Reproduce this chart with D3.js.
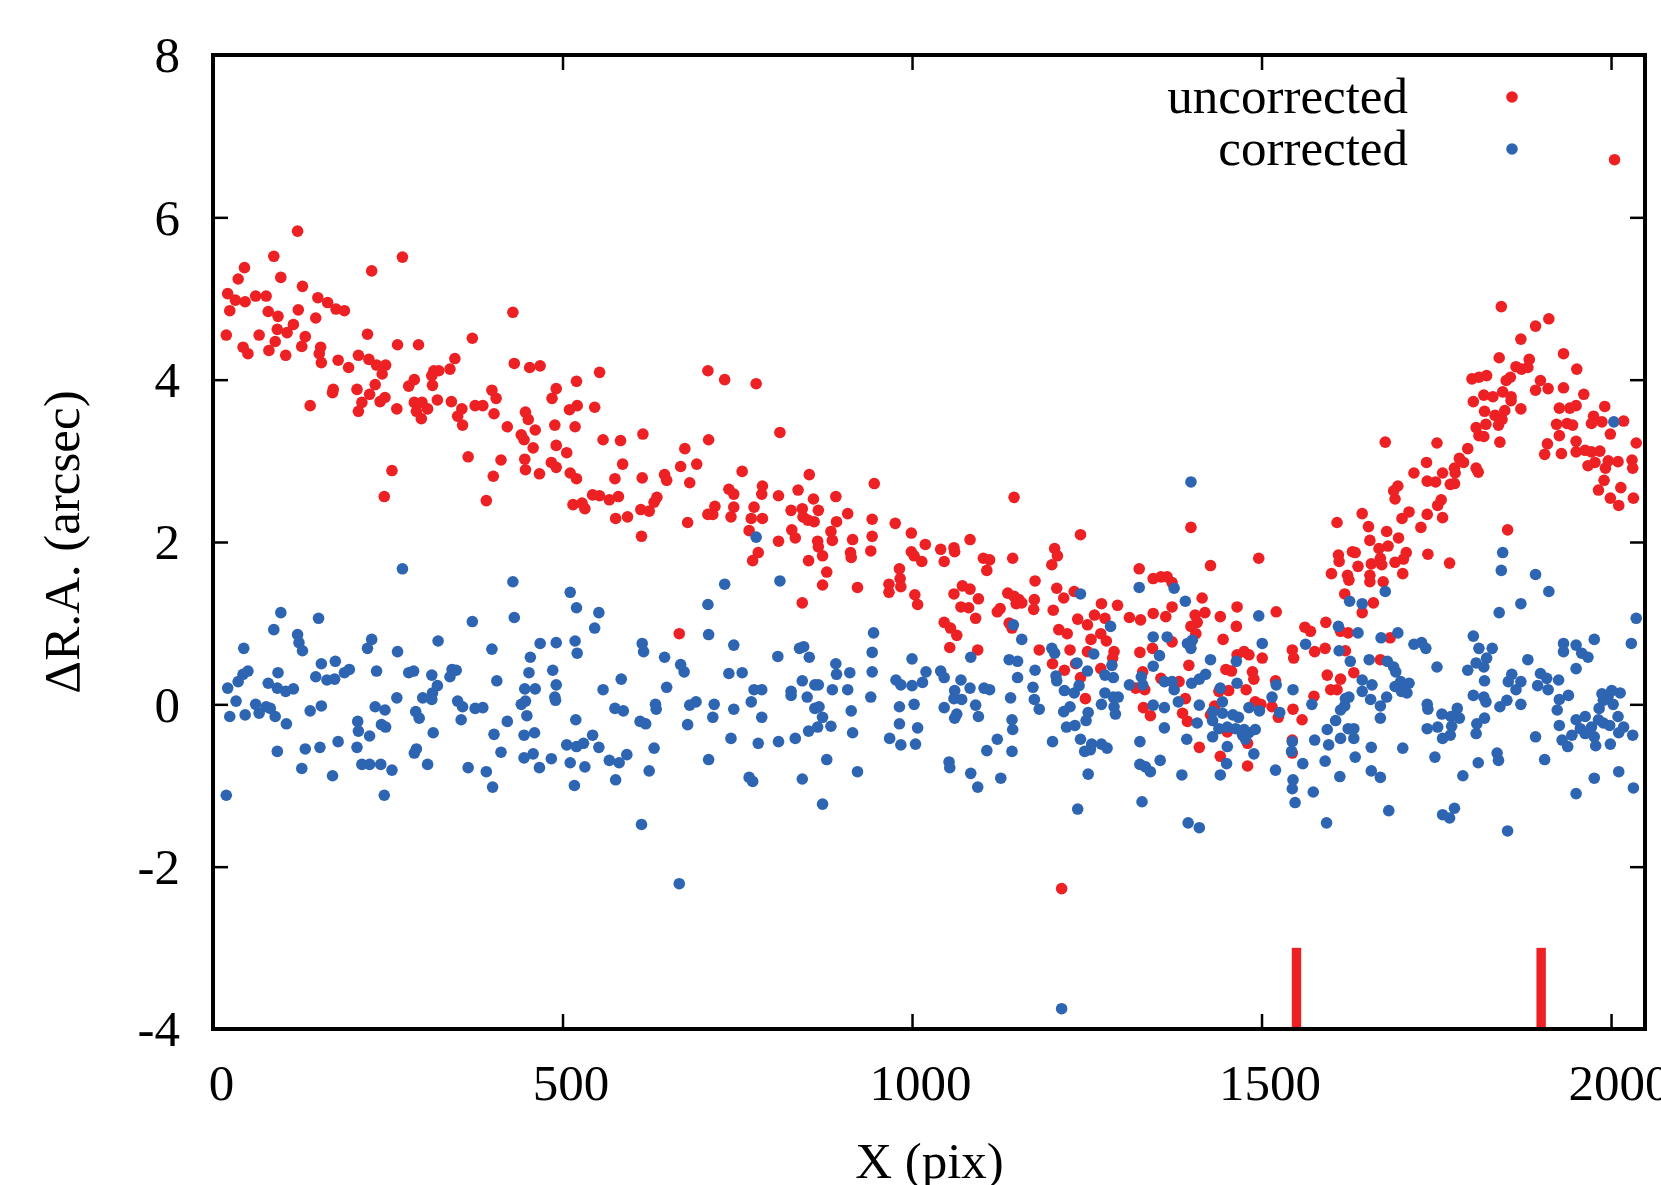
<!DOCTYPE html>
<meta charset="utf-8">
<script src="https://d3js.org/d3.v7.min.js"></script>
<style>
  body { margin: 0; background: #fff; }
  svg text { font-family: "Liberation Serif", "Times New Roman", serif; fill: #000; }
  .axis .domain { display: none; }
  .axis .tick line { stroke: #000; stroke-width: 2.5; }
  .axis .tick text { font-size: 51px; }
</style>
<div id="chart"></div>
<script>
// ticks
const xTicks = [0, 500, 1000, 1500, 2000];
const yTicks = [-4, -2, 0, 2, 4, 6, 8];

// edge markers (red bars along the bottom)
const edges = [1550, 1900];

// [X pix, dRA arcsec] before correction
const uncorrected = [
  [121,5.83],[87,5.52],[271,5.51],[45,5.38],[227,5.34],[36,5.24],[97,5.26],[128,5.15],[21,5.06],[32,4.98],[46,4.96],[61,5.03],[76,5.03],[24,4.85],[150,5.01],[164,4.95],[176,4.87],[188,4.85],[79,4.84],[93,4.78],[122,4.86],[429,4.83],[147,4.76],[115,4.68],[92,4.62],[106,4.58],[19,4.55],[66,4.55],[132,4.53],[221,4.56],[89,4.47],[43,4.40],[50,4.32],[80,4.36],[104,4.30],[127,4.41],[154,4.40],[152,4.32],[155,4.21],[179,4.24],[194,4.15],[208,4.30],[223,4.25],[234,4.18],[247,4.18],[242,4.07],[264,4.43],[294,4.43],[371,4.51],[346,4.26],[339,4.13],[316,4.11],[323,4.11],[313,4.05],[314,3.93],[288,4.00],[280,3.92],[431,4.20],[453,4.15],[468,4.17],[553,4.09],[520,3.98],[232,3.94],[224,3.82],[206,3.88],[172,3.88],[171,3.84],[139,3.68],[213,3.72],[208,3.61],[239,3.73],[246,3.78],[263,3.64],[288,3.72],[299,3.72],[291,3.61],[307,3.64],[298,3.52],[321,3.75],[341,3.73],[356,3.64],[350,3.55],[357,3.44],[375,3.68],[386,3.68],[399,3.87],[405,3.77],[402,3.58],[421,3.42],[447,3.60],[451,3.51],[461,3.38],[441,3.32],[445,3.26],[458,3.16],[491,3.89],[485,3.77],[510,3.63],[521,3.68],[546,3.66],[489,3.44],[518,3.42],[491,3.19],[506,3.10],[558,3.26],[583,3.25],[615,3.33],[365,3.05],[412,3.01],[401,2.81],[391,2.51],[446,3.02],[447,2.89],[467,2.84],[484,2.98],[491,2.92],[511,2.85],[520,2.78],[256,2.88],[245,2.56],[586,2.96],[575,2.78],[614,2.79],[646,2.83],[649,2.76],[669,2.93],[543,2.58],[553,2.57],[567,2.52],[580,2.56],[515,2.46],[528,2.48],[532,2.41],[576,2.29],[593,2.31],[612,2.40],[624,2.38],[631,2.49],[635,2.55],[613,2.07],
  [708,4.11],[732,4.00],[777,3.95],[709,3.26],[811,3.35],[675,3.15],[692,2.96],[682,2.73],[679,2.24],[757,2.87],[853,2.83],[946,2.72],[738,2.65],[745,2.59],[786,2.69],[785,2.59],[809,2.57],[837,2.64],[859,2.53],[891,2.56],[718,2.44],[708,2.34],[715,2.34],[745,2.43],[741,2.31],[774,2.43],[770,2.29],[786,2.29],[767,2.14],[827,2.39],[843,2.41],[844,2.31],[851,2.27],[860,2.25],[866,2.39],[892,2.25],[908,2.35],[828,2.15],[833,2.05],[809,2.01],[865,2.01],[866,1.94],[872,1.83],[884,2.13],[886,2.02],[915,2.03],[943,2.28],[943,2.07],[941,1.89],[912,1.87],[913,1.81],[780,1.87],[772,1.77],[852,1.77],[878,1.63],[872,1.47],[922,1.44],[976,2.23],[999,2.11],[1019,1.97],[1041,1.91],[1060,1.93],[1061,1.88],[1083,2.03],[1046,1.76],[999,1.88],[1003,1.83],[1014,1.76],[982,1.67],[983,1.55],[967,1.48],[984,1.45],[967,1.38],[1004,1.35],[1146,2.55],[1241,2.09],[1144,1.80],[1102,1.80],[1111,1.78],[1107,1.65],[1204,1.92],[1208,1.83],[1200,1.72],[1176,1.52],[1207,1.43],[1217,1.31],[1232,1.39],[1325,1.67],[1345,1.55],[1356,1.57],[1365,1.57],[1072,1.46],[1083,1.42],[1060,1.36],[1095,1.30],[1137,1.37],[1146,1.33],[1153,1.29],[1175,1.29],
  [2005,6.71],[1843,4.90],[1911,4.75],[1892,4.66],[1871,4.50],[1932,4.32],[1951,4.13],[1840,4.27],[1883,4.25],[1864,4.16],[1872,4.13],[1881,4.15],[1856,4.03],[1850,3.99],[1801,4.01],[1811,4.03],[1822,4.05],[1899,3.99],[1892,3.87],[1910,3.89],[1932,3.90],[1845,3.85],[1818,3.81],[1831,3.79],[1857,3.79],[1803,3.73],[1857,3.74],[1819,3.61],[1848,3.62],[1871,3.64],[1834,3.56],[1844,3.51],[1839,3.44],[1807,3.41],[1821,3.45],[1961,3.82],[1926,3.65],[1941,3.65],[1950,3.68],[1937,3.46],[1922,3.45],[1945,3.44],[1975,3.55],[1972,3.46],[1991,3.67],[1987,3.48],[2018,3.49],[1999,3.33],[1926,3.31],[1909,3.21],[1905,3.08],[1929,3.09],[1950,3.24],[1950,3.11],[1963,3.13],[1972,3.11],[1984,3.12],[1996,3.00],[2010,2.99],[2030,3.01],[2036,3.22],[2031,2.91],[1967,2.94],[1977,2.98],[1992,2.91],[1990,2.76],[1982,2.64],[2014,2.67],[1999,2.54],[2011,2.45],[2032,2.54],[1841,3.23],[1811,3.31],[1818,3.30],[1795,3.15],[1807,2.91],[1810,2.86],[1783,3.03],[1789,2.98],[1776,2.91],[1759,2.85],[1777,2.85],[1770,2.71],[1776,2.72],[1751,3.22],[1736,2.98],[1718,2.85],[1737,2.75],[1749,2.74],[1757,2.52],[1752,2.45],[1759,2.30],[1737,2.34],[1728,2.18],[1711,2.37],[1701,2.29],[1677,3.23],[1695,2.69],[1689,2.63],[1691,2.53],[1644,2.35],[1653,2.19],[1655,2.02],[1679,2.13],[1696,2.05],[1668,1.92],[1681,1.95],[1670,1.80],[1672,1.72],[1657,1.73],[1638,1.70],[1655,1.59],[1655,1.51],[1674,1.51],[1691,1.75],[1703,1.79],[1707,1.87],[1702,1.61],[1738,1.85],[1769,1.74],[1608,2.24],[1610,1.84],[1611,1.76],[1630,1.88],[1634,1.87],[1600,1.61],[1623,1.59],[1625,1.53],[1619,1.36],[1852,2.15],[1399,2.18],[1427,1.71],[1496,1.80],[1415,1.31],[1372,1.50],
  [667,0.87],
  [843,1.25],[1008,1.23],[1046,1.01],[1055,0.94],[1064,0.85],[1054,0.70],[1070,1.20],[1081,1.19],[1091,1.06],[1094,0.67],[1122,1.14],[1126,1.18],[1139,1.00],[1143,0.94],[1149,1.24],[1157,1.25],[1174,1.17],[1202,1.16],[1182,0.67],[1210,0.92],[1222,0.87],[1201,0.50],[1218,0.42],[1226,0.67],[1237,1.05],[1251,0.98],[1261,1.10],[1271,1.24],[1294,1.22],[1276,1.06],[1270,0.87],[1278,0.78],[1256,0.80],[1251,0.65],[1289,0.65],[1287,0.57],[1270,0.44],[1234,0.50],[1241,0.33],[1248,0.07],[1311,1.07],[1327,1.04],[1345,1.12],[1363,1.08],[1326,0.64],[1344,0.69],[1330,0.40],[1356,0.32],[1320,0.20],[1333,0.18],[1331,-0.04],[1341,-0.14],[1214,-2.27],
  [1372,1.20],[1405,1.10],[1419,1.13],[1408,1.01],[1399,0.96],[1441,1.08],[1465,1.20],[1464,0.96],[1521,1.14],[1406,0.87],[1445,0.80],[1372,0.77],[1396,0.48],[1465,0.61],[1475,0.65],[1482,0.61],[1501,0.57],[1449,0.43],[1457,0.41],[1487,0.40],[1489,0.31],[1382,0.28],[1439,0.16],[1453,0.17],[1478,0.18],[1391,0.07],[1433,-0.02],[1491,0.03],[1499,0.00],[1515,-0.03],[1387,-0.11],[1394,-0.21],[1427,-0.13],[1451,-0.34],[1480,-0.48],[1411,-0.53],[1441,-0.64],[1480,-0.76],[1524,-0.16],[1520,0.29],[1545,-0.06],[1558,-0.19],[1544,0.67],[1546,0.57],[1562,0.95],[1570,0.90],[1576,0.65],[1592,1.01],[1591,0.69],[1594,0.36],[1599,0.18],[1608,0.18],[1613,0.90],[1624,0.88],[1620,0.66],[1613,0.31],[1632,0.39],[1644,1.13],[1660,1.25],[1684,0.82],[1670,0.55],[1575,0.10],[1544,-0.44],[1544,-0.60]
];

// [X pix, dRA arcsec] after correction
const corrected = [
  [271,1.67],[429,1.51],[511,1.38],
  [777,2.06],[732,1.48],[811,1.52],[1241,1.36],[1325,1.44],
  [1399,2.74],[2004,3.48],[1845,1.87],[1843,1.65],[1892,1.60],[1911,1.39],[1677,1.39],[1626,1.27],[1375,1.43],[1391,1.27],
  [97,1.13],[151,1.06],[87,0.92],[44,0.69],[121,0.86],[123,0.76],[128,0.66],[371,1.02],[431,1.07],[520,1.19],[552,1.13],[546,0.94],[518,0.78],[521,0.63],[491,0.76],[468,0.75],[454,0.58],[452,0.39],[399,0.68],[322,0.78],[264,0.65],[227,0.80],[221,0.69],[614,0.75],[616,0.65],[646,0.58],[669,0.49],[674,0.40],[584,0.31],[558,0.18],[649,0.21],[21,0.20],[36,0.28],[43,0.37],[50,0.41],[33,0.04],[24,-0.15],[46,-0.13],[61,0.00],[66,-0.11],[79,0.26],[93,0.39],[92,0.20],[104,0.16],[115,0.19],[76,-0.03],[82,-0.05],[89,-0.15],[105,-0.24],[92,-0.58],[19,-1.12],[147,0.34],[155,0.50],[175,0.53],[163,0.30],[174,0.31],[188,0.39],[195,0.43],[139,-0.08],[155,-0.02],[132,-0.55],[153,-0.53],[179,-0.46],[127,-0.79],[171,-0.88],[234,0.41],[232,-0.03],[246,-0.07],[207,-0.21],[208,-0.33],[224,-0.39],[241,-0.25],[247,-0.28],[206,-0.53],[213,-0.74],[224,-0.74],[240,-0.74],[256,-0.81],[245,-1.12],[263,0.08],[280,0.39],[287,0.41],[313,0.36],[321,0.23],[314,0.14],[300,0.08],[313,0.06],[290,-0.09],[295,-0.17],[315,-0.35],[291,-0.55],[288,-0.60],[307,-0.74],[342,0.43],[348,0.42],[339,0.34],[350,0.04],[357,-0.03],[355,-0.19],[375,-0.05],[386,-0.04],[406,0.29],[421,-0.21],[402,-0.37],[412,-0.59],[365,-0.78],[391,-0.83],[400,-1.02],[441,0.00],[447,0.04],[446,0.19],[461,0.19],[449,-0.14],[445,-0.38],[460,-0.35],[458,-0.61],[445,-0.66],[467,-0.78],[486,0.42],[491,0.24],[489,0.09],[490,0.05],[484,-0.67],[519,-0.19],[506,-0.50],[520,-0.52],[530,-0.48],[511,-0.72],[532,-0.77],[517,-1.00],[543,-0.38],[552,-0.53],[567,-0.69],[581,-0.72],[592,-0.62],[576,-0.93],[575,-0.05],[587,-0.08],[611,-0.21],[619,-0.24],[633,0.00],[634,-0.06],[631,-0.54],[624,-0.82],[613,-1.48],[667,-2.21],
  [708,1.23],[709,0.86],[745,0.73],[808,0.59],[839,0.69],[845,0.71],[853,0.58],[945,0.88],[943,0.64],[943,0.40],[941,0.09],[891,0.50],[892,0.37],[911,0.39],[908,0.18],[886,0.18],[843,0.29],[861,0.24],[866,0.24],[827,0.16],[827,0.11],[850,0.09],[738,0.38],[757,0.39],[774,0.18],[785,0.18],[770,0.03],[745,-0.06],[717,0.00],[682,-0.01],[691,0.03],[715,-0.16],[679,-0.25],[785,-0.16],[741,-0.42],[780,-0.48],[809,-0.46],[833,-0.42],[852,-0.33],[865,-0.28],[861,-0.05],[867,-0.03],[872,-0.16],[884,-0.27],[913,-0.08],[915,-0.35],[709,-0.68],[767,-0.90],[772,-0.95],[843,-0.92],[878,-0.68],[922,-0.83],[872,-1.23],[977,0.30],[984,0.24],[1000,0.23],[1000,0.56],[1015,0.27],[1020,0.40],[1041,0.41],[1046,0.33],[1070,0.30],[1083,0.20],[1061,0.17],[1060,0.07],[1071,0.06],[982,-0.03],[1003,0.00],[982,-0.24],[1008,-0.29],[968,-0.42],[984,-0.50],[1005,-0.49],[1046,-0.04],[1064,-0.12],[1061,-0.17],[1091,-0.01],[1095,-0.15],[1084,0.58],[1103,0.20],[1111,0.18],[1053,-0.71],[1054,-0.78],[1084,-0.85],[1094,-1.02],[1122,-0.43],[1107,-0.57],[1127,-0.91],[1145,0.98],[1157,0.80],[1139,0.55],[1151,0.53],[1151,0.33],[1141,0.08],[1143,-0.19],[1144,-0.31],[1143,-0.58],[1176,0.42],[1173,0.21],[1175,0.06],[1182,-0.06],[1200,0.69],[1204,0.63],[1206,0.35],[1207,0.29],[1218,0.17],[1236,0.51],[1251,0.41],[1260,0.62],[1239,0.23],[1232,0.14],[1226,-0.03],[1217,-0.09],[1252,-0.10],[1249,-0.20],[1221,-0.28],[1233,-0.26],[1201,-0.46],[1241,-0.43],[1257,-0.49],[1247,-0.58],[1255,-0.56],[1271,-0.49],[1279,-0.54],[1252,-0.86],[1237,-1.29],[1214,-3.75],[1284,0.96],[1286,0.48],[1276,0.36],[1288,0.33],[1276,0.14],[1271,0.00],[1288,0.09],[1295,0.09],[1289,-0.03],[1291,-0.12],[1311,0.24],[1328,0.34],[1330,0.24],[1345,0.83],[1354,0.60],[1345,0.47],[1361,0.28],[1345,-0.01],[1361,-0.04],[1361,-0.29],[1326,-0.46],[1355,-0.69],[1326,-0.74],[1334,-0.77],[1341,-0.83],[1329,-1.20],
  [1644,1.24],[1871,1.24],[1840,1.13],[2036,1.06],[1496,1.09],[1365,0.83],[1394,0.75],[1401,0.79],[1399,0.69],[1501,0.75],[1563,0.74],[1610,0.96],[1638,0.88],[1671,0.82],[1695,0.88],[1611,0.66],[1627,0.53],[1654,0.55],[1680,0.53],[1689,0.46],[1692,0.40],[1718,0.74],[1729,0.76],[1735,0.69],[1751,0.46],[1427,0.55],[1464,0.53],[1420,0.37],[1411,0.31],[1400,0.26],[1375,0.18],[1372,0.28],[1441,0.20],[1465,0.26],[1444,0.03],[1381,0.03],[1411,-0.01],[1430,-0.09],[1430,-0.20],[1444,-0.11],[1459,-0.13],[1467,-0.16],[1482,-0.04],[1497,-0.08],[1515,0.09],[1521,0.24],[1526,-0.10],[1451,-0.28],[1439,-0.30],[1463,-0.30],[1475,-0.31],[1482,-0.35],[1491,-0.31],[1473,-0.38],[1477,-0.43],[1430,-0.40],[1451,-0.52],[1408,-0.23],[1393,-0.43],[1386,-0.87],[1441,-0.87],[1450,-0.73],[1489,-0.61],[1520,-0.81],[1395,-1.46],[1411,-1.52],[1545,0.18],[1572,0.00],[1544,-0.46],[1543,-0.58],[1545,-0.93],[1544,-1.04],[1548,-1.21],[1559,-0.73],[1576,-0.44],[1574,-1.08],[1594,-0.31],[1596,-0.50],[1591,-0.70],[1606,-0.20],[1613,-0.07],[1619,-0.02],[1620,0.07],[1625,0.09],[1624,-0.30],[1632,-0.30],[1613,-0.42],[1632,-0.42],[1612,-0.89],[1634,-0.65],[1593,-1.46],[1644,0.30],[1644,0.16],[1656,0.06],[1658,0.24],[1670,-0.02],[1679,0.09],[1670,-0.17],[1657,-0.53],[1657,-0.82],[1670,-0.90],[1682,-1.31],[1702,-0.54],[1691,0.22],[1699,0.28],[1703,0.22],[1711,0.26],[1700,0.16],[1708,0.14],[1737,0.00],[1738,-0.06],[1737,-0.30],[1752,-0.28],[1758,-0.12],[1771,-0.15],[1780,-0.05],[1783,-0.17],[1772,-0.27],[1770,-0.38],[1759,-0.42],[1748,-0.65],[1788,-0.88],[1759,-1.36],[1769,-1.40],[1776,-1.28],[1795,0.42],[1803,0.84],[1811,0.69],[1822,0.57],[1807,0.51],[1818,0.46],[1830,0.69],[1819,0.29],[1803,0.11],[1818,0.09],[1821,0.03],[1819,-0.17],[1808,-0.24],[1807,-0.36],[1810,-0.72],[1837,-0.60],[1839,-0.69],[1852,-1.56],[1841,-0.03],[1851,0.05],[1853,0.28],[1858,0.37],[1864,0.18],[1871,0.28],[1871,0.00],[1881,0.55],[1892,-0.40],[1905,-0.68],[1895,0.23],[1899,0.38],[1908,0.32],[1910,0.18],[1925,0.30],[1932,0.75],[1932,0.65],[1950,0.73],[1958,0.63],[1967,0.58],[1976,0.80],[1950,0.44],[1939,0.11],[1926,0.06],[1923,-0.07],[1926,-0.26],[1930,-0.44],[1938,-0.52],[1944,-0.38],[1950,-0.19],[1950,-1.10],[1963,-0.15],[1956,-0.30],[1963,-0.36],[1972,-0.28],[1976,-0.40],[1978,-0.51],[1982,-0.19],[1989,-0.23],[1998,-0.26],[1983,-0.05],[1989,0.05],[1996,0.11],[2003,0.00],[2001,0.17],[2013,0.14],[1987,0.13],[2010,-0.15],[2011,-0.35],[2018,-0.28],[2031,-0.38],[1999,-0.49],[1976,-0.91],[2011,-0.83],[2032,-1.03],[2029,0.75]
];

const red = "#ed2024", blue = "#2e65b2";
const W = 1661, H = 1185;
const plot = {left: 213, right: 1646, top: 55, bottom: 1029};
const dotR = 5.8;

const svg = d3.select("#chart").append("svg")
    .attr("width", W)
    .attr("height", H);

const x = d3.scaleLinear().domain([0, 2050]).range([plot.left, plot.right]);
const y = d3.scaleLinear().domain([-4, 8]).range([plot.bottom, plot.top]);

// points: uncorrected first, corrected on top
svg.append("g").selectAll("circle")
  .data(uncorrected)
  .join("circle")
    .attr("cx", d => x(d[0]))
    .attr("cy", d => y(d[1]))
    .attr("r", dotR)
    .attr("fill", red);

svg.append("g").selectAll("circle")
  .data(corrected)
  .join("circle")
    .attr("cx", d => x(d[0]))
    .attr("cy", d => y(d[1]))
    .attr("r", dotR)
    .attr("fill", blue);

// red bars at the bottom
svg.append("g").selectAll("rect")
  .data(edges)
  .join("rect")
    .attr("x", d => x(d) - 4.7)
    .attr("y", y(-3))
    .attr("width", 9.4)
    .attr("height", y(-4) - y(-3))
    .attr("fill", red);

// axes, ticks pointing inwards and mirrored
const tick = 15;
const plain = d => String(d);   // no thousands comma, ascii minus

const xb = svg.append("g").attr("class", "axis")
    .attr("transform", `translate(0,${plot.bottom})`)
    .call(d3.axisBottom(x).tickValues(xTicks).tickSize(-tick).tickSizeOuter(0).tickFormat(plain));
xb.selectAll("text").attr("dy", null).attr("y", 71).attr("dx", 8);

svg.append("g").attr("class", "axis")
    .attr("transform", `translate(0,${plot.top})`)
    .call(d3.axisTop(x).tickValues(xTicks).tickSize(-tick).tickSizeOuter(0).tickFormat(""));

const yl = svg.append("g").attr("class", "axis")
    .attr("transform", `translate(${plot.left},0)`)
    .call(d3.axisLeft(y).tickValues(yTicks).tickSize(-tick).tickSizeOuter(0).tickPadding(33).tickFormat(plain));
yl.selectAll("text").attr("dy", "0.33em");

svg.append("g").attr("class", "axis")
    .attr("transform", `translate(${plot.right - 1},0)`)
    .call(d3.axisRight(y).tickValues(yTicks).tickSize(-tick).tickSizeOuter(0).tickFormat(""));

// border
svg.append("rect")
    .attr("x", plot.left)
    .attr("y", plot.top)
    .attr("width", plot.right - 1 - plot.left)
    .attr("height", plot.bottom - plot.top)
    .attr("fill", "none")
    .attr("stroke", "#000")
    .attr("stroke-width", 4);

// legend
const legend = [
  {label: "uncorrected", color: red, y: 97},
  {label: "corrected", color: blue, y: 149}
];
const lg = svg.append("g").selectAll("g").data(legend).join("g");
lg.append("text")
    .attr("x", 1408)
    .attr("y", d => d.y + 16)
    .attr("text-anchor", "end")
    .style("font-size", "51px")
    .text(d => d.label);
lg.append("circle")
    .attr("cx", 1512)
    .attr("cy", d => d.y)
    .attr("r", dotR)
    .attr("fill", d => d.color);

// axis titles
svg.append("text")
    .attr("x", (plot.left + plot.right) / 2)
    .attr("y", 1178)
    .attr("text-anchor", "middle")
    .style("font-size", "51px")
    .text("X (pix)");

svg.append("text")
    .attr("transform", `translate(79,${(plot.top + plot.bottom) / 2}) rotate(-90)`)
    .attr("text-anchor", "middle")
    .style("font-size", "51px")
    .text("ΔR.A. (arcsec)");
</script>
